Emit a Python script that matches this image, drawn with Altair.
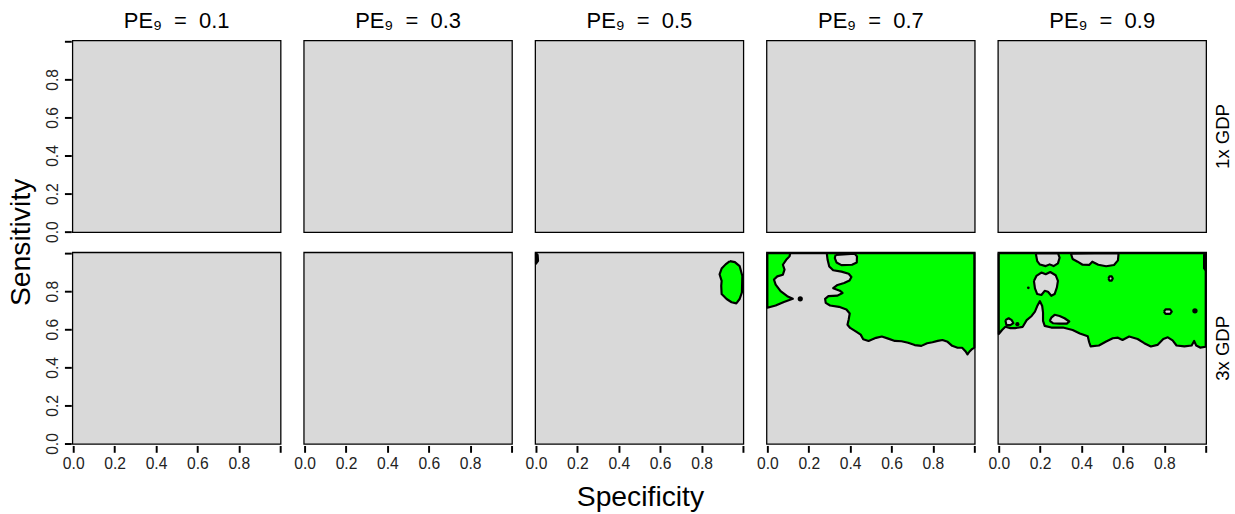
import altair as alt
import pandas as pd

# Facet levels
GDP_LEVELS = ["1x GDP", "3x GDP"]
PE_LEVELS = ["0.1", "0.3", "0.5", "0.7", "0.9"]
TICKS = [0.0, 0.2, 0.4, 0.6, 0.8, 1.0]

GREEN = "#00ff00"
GREY = "#d9d9d9"

# Panel extent (specificity, sensitivity)
PANEL = [(0, 0), (1, 0), (1, 1), (0, 1), (0, 0)]

# 3x GDP, PE9 = 0.5: feasible region at the right edge
PE05_GREEN = [(0.937, 0.958), (0.961, 0.953), (0.984, 0.932), (0.997, 0.880), (0.995, 0.794),
              (0.984, 0.759), (0.968, 0.736), (0.945, 0.742), (0.921, 0.759), (0.897, 0.785),
              (0.895, 0.828), (0.897, 0.854), (0.887, 0.889), (0.897, 0.919), (0.916, 0.941),
              (0.937, 0.958)]
PE05_EDGE = [(0, 1), (0.008, 0.99), (0.01, 0.96), (0, 0.945), (0, 1)]

# 3x GDP, PE9 = 0.7
PE07_GREEN = [(0, 1), (0, 0.713), (0.040, 0.725), (0.080, 0.743), (0.123, 0.760), (0.096, 0.774),
              (0.064, 0.800), (0.040, 0.835), (0.032, 0.861), (0.048, 0.878), (0.075, 0.887),
              (0.083, 0.913), (0.075, 0.939), (0.091, 0.965), (0.107, 0.983), (0.111, 1.0),
              (0.287, 1.0), (0.291, 0.965), (0.299, 0.930), (0.318, 0.910), (0.358, 0.903),
              (0.393, 0.892), (0.406, 0.875), (0.397, 0.856), (0.371, 0.843), (0.339, 0.833),
              (0.318, 0.816), (0.350, 0.803), (0.363, 0.791), (0.339, 0.777), (0.295, 0.774),
              (0.279, 0.760), (0.282, 0.739), (0.303, 0.725), (0.346, 0.718), (0.382, 0.704),
              (0.398, 0.683), (0.393, 0.652), (0.387, 0.624), (0.400, 0.607), (0.425, 0.590),
              (0.451, 0.572), (0.463, 0.548), (0.489, 0.539), (0.525, 0.555), (0.553, 0.562),
              (0.584, 0.551), (0.616, 0.539), (0.648, 0.537), (0.680, 0.529), (0.712, 0.517),
              (0.744, 0.513), (0.772, 0.527), (0.798, 0.532), (0.823, 0.539), (0.846, 0.544),
              (0.871, 0.534), (0.893, 0.513), (0.919, 0.503), (0.941, 0.503), (0.957, 0.485),
              (0.967, 0.468), (0.976, 0.482), (0.989, 0.496), (1.0, 0.504), (1.0, 1.0), (0, 1)]
PE07_HOLE = [(0.330, 0.991), (0.422, 0.997), (0.433, 0.983), (0.432, 0.951), (0.409, 0.939),
             (0.358, 0.937), (0.334, 0.951), (0.326, 0.974), (0.330, 0.991)]
PE07_DOTS = [(0.159, 0.760, 28)]

# 3x GDP, PE9 = 0.9
PE09_GREEN = [(0, 1), (0, 0.575), (0.016, 0.596), (0.032, 0.613), (0.056, 0.606), (0.079, 0.606),
              (0.116, 0.613), (0.135, 0.648), (0.159, 0.670), (0.175, 0.693), (0.186, 0.722),
              (0.199, 0.748), (0.210, 0.722), (0.214, 0.688), (0.214, 0.644), (0.222, 0.618),
              (0.254, 0.609), (0.310, 0.609), (0.357, 0.596), (0.392, 0.578), (0.430, 0.563),
              (0.437, 0.532), (0.444, 0.510), (0.484, 0.515), (0.519, 0.536), (0.551, 0.553),
              (0.576, 0.556), (0.598, 0.544), (0.630, 0.562), (0.671, 0.549), (0.703, 0.527),
              (0.735, 0.510), (0.767, 0.518), (0.795, 0.549), (0.817, 0.558), (0.840, 0.542),
              (0.859, 0.515), (0.897, 0.510), (0.932, 0.515), (0.944, 0.539), (0.954, 0.515),
              (0.973, 0.504), (1.0, 0.508), (1, 1), (0, 1)]
PE09_HOLE_A = [(0.179, 0.998), (0.286, 1.0), (0.294, 0.976), (0.286, 0.946), (0.265, 0.932),
               (0.246, 0.941), (0.227, 0.932), (0.199, 0.940), (0.186, 0.958), (0.182, 0.981),
               (0.179, 0.998)]
PE09_HOLE_B = [(0.170, 0.854), (0.182, 0.880), (0.206, 0.898), (0.227, 0.889), (0.249, 0.901),
               (0.275, 0.884), (0.286, 0.854), (0.281, 0.820), (0.270, 0.785), (0.254, 0.776),
               (0.238, 0.797), (0.222, 0.802), (0.206, 0.780), (0.186, 0.785), (0.175, 0.815),
               (0.170, 0.854)]
PE09_HOLE_C = [(0.349, 0.997), (0.579, 1.0), (0.576, 0.962), (0.557, 0.938), (0.519, 0.931),
               (0.481, 0.939), (0.452, 0.955), (0.437, 0.938), (0.405, 0.939), (0.381, 0.955),
               (0.357, 0.969), (0.349, 0.997)]
PE09_HOLE_D = [(0.530, 0.867), (0.535, 0.878), (0.546, 0.878), (0.551, 0.867), (0.546, 0.856),
               (0.535, 0.856), (0.530, 0.867)]
PE09_HOLE_E = [(0.798, 0.693), (0.806, 0.705), (0.828, 0.705), (0.836, 0.693), (0.828, 0.681),
               (0.806, 0.681), (0.798, 0.693)]
PE09_HOLE_H = [(0.032, 0.648), (0.048, 0.658), (0.063, 0.648), (0.071, 0.632), (0.056, 0.622),
               (0.037, 0.623), (0.032, 0.648)]
PE09_HOLE_J = [(0.246, 0.644), (0.254, 0.661), (0.270, 0.676), (0.294, 0.670), (0.318, 0.658),
               (0.341, 0.641), (0.329, 0.630), (0.294, 0.630), (0.262, 0.632), (0.246, 0.644)]
PE09_EDGE = [(1, 1), (0.992, 0.99), (0.992, 0.92), (1, 0.91), (1, 1)]
PE09_DOTS = [(0.948, 0.697, 30), (0.143, 0.818, 8), (0.090, 0.627, 18)]

# (gdp, pe, kind, polygon)
REGIONS = [
    ("3x GDP", "0.5", "green", PE05_GREEN),
    ("3x GDP", "0.5", "green", PE05_EDGE),
    ("3x GDP", "0.7", "green", PE07_GREEN),
    ("3x GDP", "0.7", "hole", PE07_HOLE),
    ("3x GDP", "0.9", "green", PE09_GREEN),
    ("3x GDP", "0.9", "hole", PE09_HOLE_A),
    ("3x GDP", "0.9", "hole", PE09_HOLE_B),
    ("3x GDP", "0.9", "hole", PE09_HOLE_C),
    ("3x GDP", "0.9", "hole", PE09_HOLE_D),
    ("3x GDP", "0.9", "hole", PE09_HOLE_E),
    ("3x GDP", "0.9", "hole", PE09_HOLE_H),
    ("3x GDP", "0.9", "hole", PE09_HOLE_J),
    ("3x GDP", "0.9", "hole", PE09_EDGE),
]
DOTS = [("3x GDP", "0.7", PE07_DOTS), ("3x GDP", "0.9", PE09_DOTS)]

NB = "\u00a0"


def title_of(pe):
    return "PE\u2089" + NB * 2 + "=" + NB * 2 + pe


rows = []
shape_id = 0
for gdp in GDP_LEVELS:
    for pe in PE_LEVELS:
        for i, (x, y) in enumerate(PANEL):
            rows.append(dict(gdp=gdp, pe=title_of(pe), kind="bg", shape=shape_id, i=i, x=x, y=y, sz=0))
        shape_id += 1
for gdp, pe, kind, pts in REGIONS:
    for i, (x, y) in enumerate(pts):
        rows.append(dict(gdp=gdp, pe=title_of(pe), kind=kind, shape=shape_id, i=i, x=x, y=y, sz=0))
    shape_id += 1
for gdp, pe, pts in DOTS:
    for i, (x, y, s) in enumerate(pts):
        rows.append(dict(gdp=gdp, pe=title_of(pe), kind="dot", shape=shape_id, i=i, x=x, y=y, sz=s))
        shape_id += 1

df = pd.DataFrame(rows)

FONT = "Liberation Sans"
LABEL_EXPR = "datum.value >= 0.99 ? '' : format(datum.value, '.1f')"

x_enc = alt.X(
    "x:Q",
    scale=alt.Scale(domain=[0, 1], nice=False, zero=False),
    axis=alt.Axis(values=TICKS, labelExpr=LABEL_EXPR, title=None, labelFlush=False, labelOverlap=False,
                  labelFontSize=16, labelFont=FONT, labelColor="#222222", labelPadding=4,
                  tickSize=7, tickWidth=2, tickColor="black", domain=False, grid=False),
)
y_enc = alt.Y(
    "y:Q",
    scale=alt.Scale(domain=[0, 1], nice=False, zero=False),
    axis=alt.Axis(values=TICKS, labelExpr=LABEL_EXPR, title=None, labelFlush=False, labelOverlap=False,
                  labelFontSize=16, labelFont=FONT, labelColor="#222222", labelPadding=4,
                  labelAngle=270, labelAlign="center", labelBaseline="bottom",
                  tickSize=7, tickWidth=2, tickColor="black", domain=False, grid=False),
)

base = alt.Chart().encode(x=x_enc, y=y_enc, order=alt.Order("i:Q"), detail="shape:N")

bg = base.mark_line(fill=GREY, strokeWidth=0).transform_filter(alt.datum.kind == "bg")
green = base.mark_line(fill=GREEN, stroke="black", strokeWidth=2.2, strokeJoin="round").transform_filter(
    alt.datum.kind == "green")
holes = base.mark_line(fill=GREY, stroke="black", strokeWidth=2.2, strokeJoin="round").transform_filter(
    alt.datum.kind == "hole")
dots = alt.Chart().mark_point(filled=True, color="black", opacity=1).encode(
    x=x_enc, y=y_enc, size=alt.Size("sz:Q", scale=None)
).transform_filter(alt.datum.kind == "dot")

panel = alt.layer(bg, green, holes, dots, data=df).properties(width=212, height=195)

chart = panel.facet(
    row=alt.Row("gdp:N", sort=GDP_LEVELS, title="Sensitivity",
                header=alt.Header(titleOrient="left", titleAngle=270, titleFontSize=29,
                                  titleFontWeight="normal", titleFont=FONT, titleColor="black",
                                  titlePadding=-30,
                                  labelOrient="right", labelAngle=270, labelFontSize=19,
                                  labelFont=FONT, labelColor="black", labelPadding=6)),
    column=alt.Column("pe:N", sort=[title_of(p) for p in PE_LEVELS], title="Specificity",
                      header=alt.Header(titleOrient="bottom", titleFontSize=29,
                                        titleFontWeight="normal", titleFont=FONT, titleColor="black",
                                        titlePadding=2,
                                        labelOrient="top", labelFontSize=22.5, labelFont=FONT,
                                        labelColor="black", labelPadding=7)),
    spacing={"row": 17, "column": 19},
).configure_view(stroke="black", strokeWidth=2.6, fill=GREY).properties(
    padding={"left": 7, "top": 4, "right": 2, "bottom": 0}
)

chart.save("out.html", embed_options={"renderer": "svg", "actions": False})
